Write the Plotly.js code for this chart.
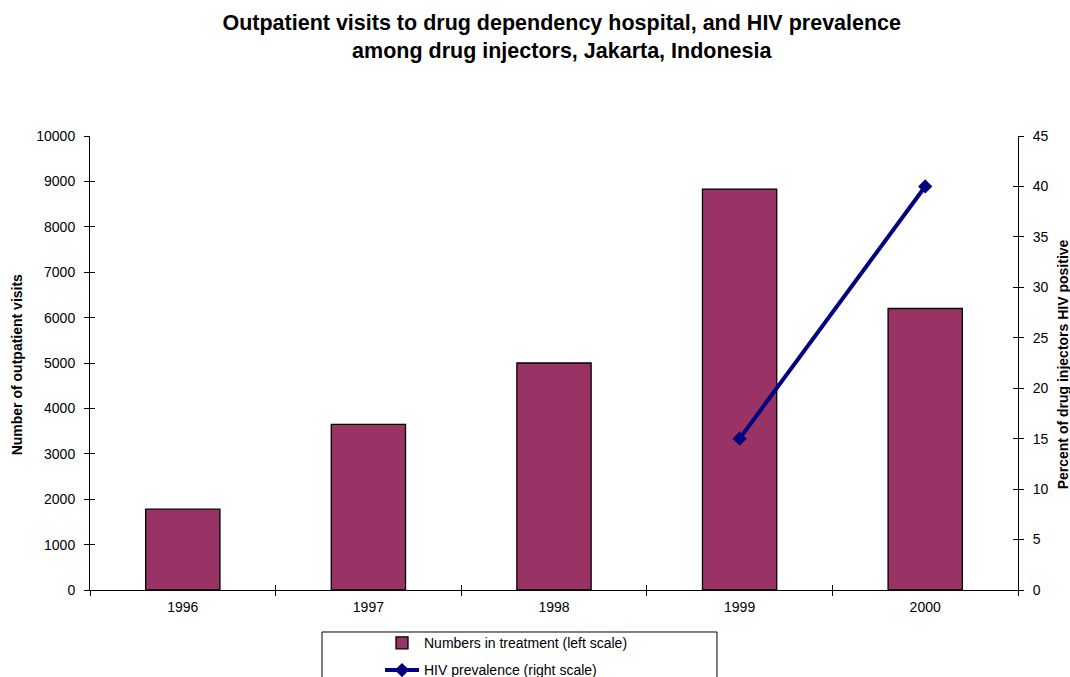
<!DOCTYPE html>
<html>
<head>
<meta charset="utf-8">
<script src="https://cdn.plot.ly/plotly-3.0.1.min.js"></script>
<style>html,body{margin:0;padding:0;background:#fff;}#chart{width:1070px;height:677px;}</style>
</head>
<body>
<div id="chart"></div>
<script>
const years = ['1996', '1997', '1998', '1999', '2000'];
const visits = [1780, 3650, 5000, 8830, 6200];
const hivPrevalence = [null, null, null, 15, 40];
const leftTicks = [0, 1000, 2000, 3000, 4000, 5000, 6000, 7000, 8000, 9000, 10000];
const rightTicks = [0, 5, 10, 15, 20, 25, 30, 35, 40, 45];

const font = 'Arial, "Liberation Sans", sans-serif';

const traces = [
  {
    type: 'bar', x: years, y: visits, name: 'Numbers in treatment (left scale)',
    marker: {color: '#993366', line: {color: '#000000', width: 1.3}},
    width: 0.4, legendgroup: 'a', hoverinfo: 'x+y'
  },
  {
    type: 'scatter', mode: 'lines+markers', x: years, y: hivPrevalence, yaxis: 'y2',
    name: 'HIV prevalence (right scale)', legendgroup: 'b',
    line: {color: '#000080', width: 4}, marker: {symbol: 'diamond', size: 11, color: '#000080'},
    connectgaps: false
  },
  // invisible helpers so that the inner half of each crossing tick is drawn
  {type: 'scatter', mode: 'markers', x: years, y: visits, xaxis: 'x2', yaxis: 'y3',
   marker: {opacity: 0}, showlegend: false, hoverinfo: 'skip'},
  {type: 'scatter', mode: 'markers', x: years, y: hivPrevalence, xaxis: 'x', yaxis: 'y4',
   marker: {opacity: 0}, showlegend: false, hoverinfo: 'skip'}
];

const layout = {
  width: 1070, height: 677,
  margin: {l: 90, r: 52, t: 136, b: 87, autoexpand: false},
  paper_bgcolor: '#ffffff', plot_bgcolor: '#ffffff',
  font: {family: font, size: 14, color: '#000000'},
  title: {
    text: '<b>Outpatient visits to drug dependency hospital, and HIV prevalence<br>among drug injectors, Jakarta, Indonesia</b>',
    font: {family: font, size: 21.5, color: '#000000'},
    x: 0.525, xanchor: 'center', y: 0.9557, yanchor: 'middle'
  },
  xaxis: {
    type: 'category', categoryorder: 'array', categoryarray: years,
    range: [-0.5, 4.5], showline: true, linecolor: '#000', linewidth: 1,
    ticks: 'outside', tickson: 'boundaries', ticklen: 5, tickcolor: '#000',
    showgrid: false, zeroline: false, fixedrange: true,
    tickfont: {family: font, size: 14}, ticklabelstandoff: 4
  },
  yaxis: {
    range: [0, 10000], tickvals: leftTicks, ticktext: leftTicks.map(String),
    showline: true, linecolor: '#000', linewidth: 1,
    ticks: 'outside', ticklen: 5, tickcolor: '#000',
    showgrid: false, zeroline: false,
    tickfont: {family: font, size: 14}, ticklabelstandoff: 6
  },
  yaxis2: {
    overlaying: 'y', side: 'right', range: [0, 45], tickvals: rightTicks, ticktext: rightTicks.map(String),
    showline: true, linecolor: '#000', linewidth: 1,
    ticks: 'outside', ticklen: 5, tickcolor: '#000',
    showgrid: false, zeroline: false,
    tickfont: {family: font, size: 14}, ticklabelstandoff: 6
  },
  yaxis3: {
    overlaying: 'y', side: 'left', range: [0, 10000], tickvals: leftTicks,
    showticklabels: false, ticks: 'inside', ticklen: 5, tickcolor: '#000',
    showline: false, showgrid: false, zeroline: false
  },
  yaxis4: {
    overlaying: 'y', side: 'right', range: [0, 45], tickvals: rightTicks,
    showticklabels: false, ticks: 'inside', ticklen: 5, tickcolor: '#000',
    showline: false, showgrid: false, zeroline: false
  },
  xaxis2: {
    overlaying: 'x', side: 'bottom', type: 'category', categoryorder: 'array', categoryarray: years,
    range: [-0.5, 4.5], tickson: 'boundaries',
    showticklabels: false, ticks: 'inside', ticklen: 5, tickcolor: '#000',
    showline: false, showgrid: false, zeroline: false
  },
  annotations: [
    {text: '<b>Number of outpatient visits</b>', xref: 'paper', yref: 'paper', x: -0.0787, y: 0.497,
     xanchor: 'center', yanchor: 'middle', textangle: -90, showarrow: false,
     font: {family: font, size: 14, color: '#000'}},
    {text: '<b>Percent of drug injectors HIV positive</b>', xref: 'paper', yref: 'paper', x: 1.0485, y: 0.497,
     xanchor: 'center', yanchor: 'middle', textangle: -90, showarrow: false,
     font: {family: font, size: 14, color: '#000'}}
  ],
  showlegend: true,
  legend: {
    x: 0.3125, xanchor: 'left', y: -0.082, yanchor: 'top',
    bgcolor: 'rgba(0,0,0,0)', borderwidth: 0,
    font: {family: font, size: 14, color: '#000'},
    traceorder: 'grouped', tracegroupgap: 6, itemwidth: 34
  },
  shapes: [
    {type: 'rect', xref: 'paper', yref: 'paper', x0: 0.25, x1: 0.6756, y0: -0.0925, y1: -0.3,
     line: {color: '#000', width: 1}, fillcolor: 'rgba(0,0,0,0)', layer: 'below'}
  ],
  bargap: 0.6
};

Plotly.newPlot('chart', traces, layout, {displayModeBar: false, staticPlot: true});
</script>
</body>
</html>
